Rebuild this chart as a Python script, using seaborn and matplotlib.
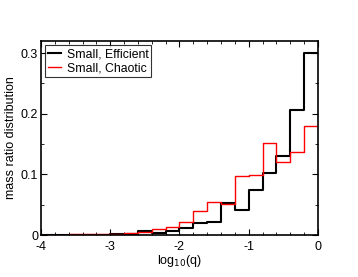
import numpy as np
import pandas as pd
import matplotlib
matplotlib.use("Agg")
import matplotlib.pyplot as plt
import seaborn as sns
from matplotlib.ticker import MultipleLocator

# bins of log10(q): 20 bins of width 0.2 from -4 to 0
bin_centers = np.arange(-3.9, 0.0, 0.2)

efficient = [0.0003, 0.0003, 0.0004, 0.0005, 0.0008, 0.001, 0.002, 0.007,
             0.003, 0.007, 0.012, 0.019, 0.021, 0.053, 0.042, 0.075,
             0.102, 0.130, 0.207, 0.300]
chaotic = [0.0005, 0.0005, 0.001, 0.0012, 0.0015, 0.002, 0.003, 0.0055,
           0.010, 0.013, 0.021, 0.039, 0.054, 0.051, 0.098, 0.0995,
           0.152, 0.120, 0.137, 0.179]

df = pd.DataFrame({
    "log10q": np.concatenate([bin_centers, bin_centers]),
    "frac": efficient + chaotic,
    "run": ["Small, Efficient"] * 20 + ["Small, Chaotic"] * 20,
})

plt.rcParams["axes.unicode_minus"] = False
plt.rcParams["font.family"] = ["Liberation Sans", "DejaVu Sans"]

fig = plt.figure(figsize=(3.58, 2.77), dpi=100)
ax = fig.add_axes([0.1145, 0.1516, 0.7735, 0.7004])

sns.histplot(data=df[df.run == "Small, Efficient"], x="log10q", weights="frac",
             binwidth=0.2, binrange=(-4, 0), element="step", fill=False,
             color="black", linewidth=1.5, ax=ax, label="Small, Efficient")
sns.histplot(data=df[df.run == "Small, Chaotic"], x="log10q", weights="frac",
             binwidth=0.2, binrange=(-4, 0), element="step", fill=False,
             color="red", linewidth=1.0, ax=ax, label="Small, Chaotic")

ax.set_xlim(-4, 0)
ax.set_ylim(0, 0.32)
ax.xaxis.set_minor_locator(MultipleLocator(0.2))
ax.yaxis.set_minor_locator(MultipleLocator(0.05))
ax.set_yticks([0, 0.1, 0.2, 0.3])
ax.set_yticklabels(["0", "0.1", "0.2", "0.3"])
ax.set_xticks([-4, -3, -2, -1, 0])
ax.set_xticklabels(["-4", "-3", "-2", "-1", "0"])
ax.tick_params(which="both", direction="in", top=True, right=True, labelsize=9)
ax.tick_params(axis="x", pad=4.5)
ax.tick_params(axis="y", pad=2)
ax.tick_params(which="major", length=4)
ax.tick_params(which="minor", length=2.5)
for s in ax.spines.values():
    s.set_linewidth(1.2)

ax.set_xlabel("log$_{10}$(q)", fontsize=9, labelpad=0)
ax.set_ylabel("mass ratio distribution", fontsize=9, labelpad=3)

leg = ax.legend(loc="upper left", fontsize=8.8, frameon=True, fancybox=False,
                handlelength=1.0, borderpad=0.25, labelspacing=0.15,
                handletextpad=0.5, borderaxespad=0.35)
leg.get_frame().set_edgecolor("black")
leg.get_frame().set_linewidth(0.8)

fig.savefig("out.png", dpi=100)
